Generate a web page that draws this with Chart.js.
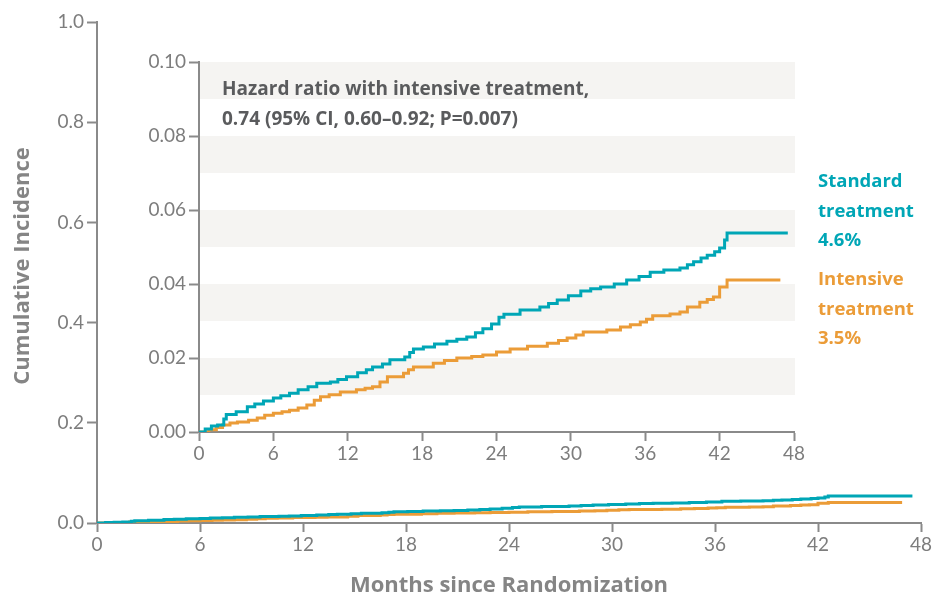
<!DOCTYPE html>
<html>
<head>
<meta charset="utf-8">
<script src="https://cdn.jsdelivr.net/npm/chart.js@4.4.1/dist/chart.umd.min.js"></script>
<style>
  html, body { margin: 0; padding: 0; background: #ffffff; }
  #wrap { position: relative; width: 935px; height: 594px; overflow: hidden; }
  #main { position: absolute; left: 0; top: 0; }
  #inset { position: absolute; left: 110px; top: 40px; }
</style>
</head>
<body>
<div id="wrap">
  <canvas id="main" width="935" height="594"></canvas>
  <canvas id="inset" width="825" height="430"></canvas>
</div>
<script>
// Cumulative incidence (Kaplan-Meier style step curves), months since randomization
const standardMonths = [0, 0.5, 1.0, 1.5, 2.0, 2.2, 3.0, 3.9, 4.5, 5.2, 6.0, 6.6, 7.3, 8.0, 8.8, 9.5,
  10.6, 11.2, 11.9, 12.8, 13.5, 14.0, 14.8, 15.4, 16.6, 17.0, 17.3, 18.1, 19.0, 20.0, 20.8, 21.6,
  22.3, 22.9, 23.6, 24.2, 24.6, 25.9, 27.5, 28.2, 28.9, 29.8, 30.8, 31.6, 32.4, 33.5, 34.5, 35.5,
  36.4, 37.5, 38.8, 39.4, 39.9, 40.5, 41.0, 41.6, 42.0, 42.4, 42.6, 47.5];
const standardIncidence = [0, 0.0008, 0.0016, 0.0019, 0.0035, 0.0047, 0.0055, 0.0068, 0.0076, 0.0084,
  0.0092, 0.0098, 0.0105, 0.0114, 0.0122, 0.0132, 0.0135, 0.0142, 0.0149, 0.0160, 0.0168, 0.0176,
  0.0184, 0.0195, 0.0203, 0.0215, 0.0224, 0.0230, 0.0238, 0.0245, 0.0251, 0.0257, 0.0268, 0.0279,
  0.0292, 0.0310, 0.0318, 0.0330, 0.0338, 0.0347, 0.0357, 0.0368, 0.0381, 0.0387, 0.0392, 0.0400,
  0.0411, 0.0420, 0.0432, 0.0438, 0.0443, 0.0452, 0.0460, 0.0470, 0.0478, 0.0487, 0.0497, 0.0519,
  0.0538, 0.0538];

const intensiveMonths = [0, 0.8, 1.4, 1.9, 2.5, 3.1, 4.0, 4.7, 5.3, 6.0, 6.7, 7.3, 8.0, 8.7, 9.3, 9.8,
  10.5, 11.4, 12.7, 13.4, 14.0, 14.6, 15.2, 16.5, 16.9, 17.3, 18.9, 19.8, 20.8, 22.0, 22.9, 24.0,
  25.1, 26.5, 28.1, 29.0, 29.7, 30.4, 31.0, 32.9, 34.0, 34.8, 35.6, 36.1, 36.6, 38.0, 38.8, 39.4,
  40.4, 41.0, 41.5, 42.0, 42.6, 46.9];
const intensiveIncidence = [0, 0.0006, 0.0012, 0.0019, 0.0024, 0.0027, 0.0032, 0.0038, 0.0045, 0.0051,
  0.0055, 0.0059, 0.0065, 0.0073, 0.0086, 0.0095, 0.0101, 0.0108, 0.0114, 0.0118, 0.0122, 0.0135,
  0.0149, 0.0159, 0.0168, 0.0176, 0.0186, 0.0193, 0.0200, 0.0204, 0.0208, 0.0216, 0.0224, 0.0232,
  0.0240, 0.0247, 0.0254, 0.0262, 0.0270, 0.0276, 0.0284, 0.0290, 0.0297, 0.0305, 0.0314, 0.0319,
  0.0324, 0.0338, 0.0351, 0.0358, 0.0365, 0.0392, 0.0411, 0.0411];

const monthTicks = [0, 6, 12, 18, 24, 30, 36, 42, 48];
const mainTicks = [0, 0.2, 0.4, 0.6, 0.8, 1.0];
const insetTicks = [0, 0.02, 0.04, 0.06, 0.08, 0.10];
const insetBands = [[0.01, 0.02], [0.03, 0.04], [0.05, 0.06], [0.07, 0.08], [0.09, 0.10]];

const seriesNames = ['Standard treatment', 'Intensive treatment'];
const seriesLabels = [['Standard', 'treatment', '4.6%'], ['Intensive', 'treatment', '3.5%']];
const hazardText = ['Hazard ratio with intensive treatment,', '0.74 (95% CI, 0.60\u20130.92; P=0.007)'];
const xTitle = 'Months since Randomization';
const yTitle = 'Cumulative Incidence';

const TEAL = '#00a6b6';
const ORANGE = '#eb9c38';
const AXIS = '#8a8a8a';
const TICK_TEXT = '#7d7d7d';
const TITLE_TEXT = '#858585';
const NOTE_TEXT = '#5a5b5d';
const BAND = '#f5f4f2';
const FONT = "Lato, 'Open Sans', 'DejaVu Sans', sans-serif";
const LABEL_FONT = "'Open Sans', Lato, 'DejaVu Sans', sans-serif";

const toPoints = (xs, ys) => xs.map((x, i) => ({ x: x, y: ys[i] }));

function datasets(width) {
  return [
    { label: seriesNames[0], data: toPoints(standardMonths, standardIncidence),
      borderColor: TEAL, borderWidth: width, stepped: 'before', pointRadius: 0, fill: false },
    { label: seriesNames[1], data: toPoints(intensiveMonths, intensiveIncidence),
      borderColor: ORANGE, borderWidth: width, stepped: 'before', pointRadius: 0, fill: false }
  ];
}

function axis(opts) {
  return {
    type: 'linear',
    min: opts.min, max: opts.max,
    border: { display: true, color: AXIS, width: 2 },
    grid: { display: true, drawOnChartArea: false, drawTicks: true, tickLength: opts.tickLength,
            tickColor: AXIS, tickWidth: 2 },
    ticks: { color: TICK_TEXT, font: { family: FONT, size: 19 }, padding: opts.padding,
             maxRotation: 0, autoSkip: false, callback: opts.fmt },
    afterBuildTicks: s => { s.ticks = opts.values.map(v => ({ value: v })); },
    afterFit: opts.fit
  };
}

Chart.defaults.animation = false;

// Full-range chart (0–1) with axis titles
const mainTitles = {
  id: 'mainTitles',
  afterDraw(chart) {
    const ctx = chart.ctx, a = chart.chartArea;
    ctx.save();
    ctx.fillStyle = TITLE_TEXT;
    ctx.font = 'bold 22px ' + LABEL_FONT;
    ctx.textAlign = 'center';
    ctx.textBaseline = 'alphabetic';
    ctx.fillText(xTitle, (a.left + a.right) / 2, 592);
    ctx.translate(29, 266);
    ctx.rotate(-Math.PI / 2);
    ctx.fillText(yTitle, 0, 0);
    ctx.restore();
  }
};

new Chart(document.getElementById('main'), {
  type: 'line',
  data: { datasets: datasets(3) },
  options: {
    responsive: false,
    layout: { padding: { left: 0, top: 22, right: 14, bottom: 0 } },
    plugins: { legend: { display: false }, tooltip: { enabled: false } },
    scales: {
      x: axis({ min: 0, max: 48, values: monthTicks, tickLength: 9, padding: 1,
                fmt: v => String(v), fit: s => { s.height = 71; } }),
      y: axis({ min: 0, max: 1, values: mainTicks, tickLength: 10, padding: 3,
                fmt: v => v.toFixed(1), fit: s => { s.width = 97; } })
    }
  },
  plugins: [mainTitles]
});

// Zoomed inset (0–0.10) with shaded bands, hazard ratio note and curve labels
const insetDecor = {
  id: 'insetDecor',
  beforeDraw(chart) {
    const ctx = chart.ctx, a = chart.chartArea, y = chart.scales.y;
    ctx.save();
    ctx.fillStyle = BAND;
    insetBands.forEach(([lo, hi]) => {
      const top = y.getPixelForValue(hi), bot = y.getPixelForValue(lo);
      ctx.fillRect(a.left + 1, top, a.right + 1 - (a.left + 1), bot - top);
    });
    ctx.restore();
  },
  afterDraw(chart) {
    const ctx = chart.ctx, a = chart.chartArea;
    ctx.save();
    ctx.textAlign = 'left';
    ctx.textBaseline = 'alphabetic';
    ctx.fillStyle = NOTE_TEXT;
    ctx.font = 'bold 19px ' + LABEL_FONT;
    ctx.fillText(hazardText[0], a.left + 23, a.top + 33);
    ctx.fillText(hazardText[1], a.left + 23, a.top + 63);
    ctx.font = 'bold 18.5px ' + LABEL_FONT;
    const x = a.right + 24;
    [[TEAL, 147], [ORANGE, 245]].forEach(([c, y0], k) => {
      ctx.fillStyle = c;
      seriesLabels[k].forEach((t, i) => ctx.fillText(t, x, y0 + i * 29.5));
    });
    ctx.restore();
  }
};

new Chart(document.getElementById('inset'), {
  type: 'line',
  data: { datasets: datasets(3) },
  options: {
    responsive: false,
    layout: { padding: { left: 0, top: 22, right: 141, bottom: 0 } },
    plugins: { legend: { display: false }, tooltip: { enabled: false } },
    scales: {
      x: axis({ min: 0, max: 48, values: monthTicks, tickLength: 9, padding: 1,
                fmt: v => String(v), fit: s => { s.height = 38; } }),
      y: axis({ min: 0, max: 0.10, values: insetTicks, tickLength: 10, padding: 3,
                fmt: v => v.toFixed(2), fit: s => { s.width = 89; } })
    }
  },
  plugins: [insetDecor]
});
</script>
</body>
</html>
